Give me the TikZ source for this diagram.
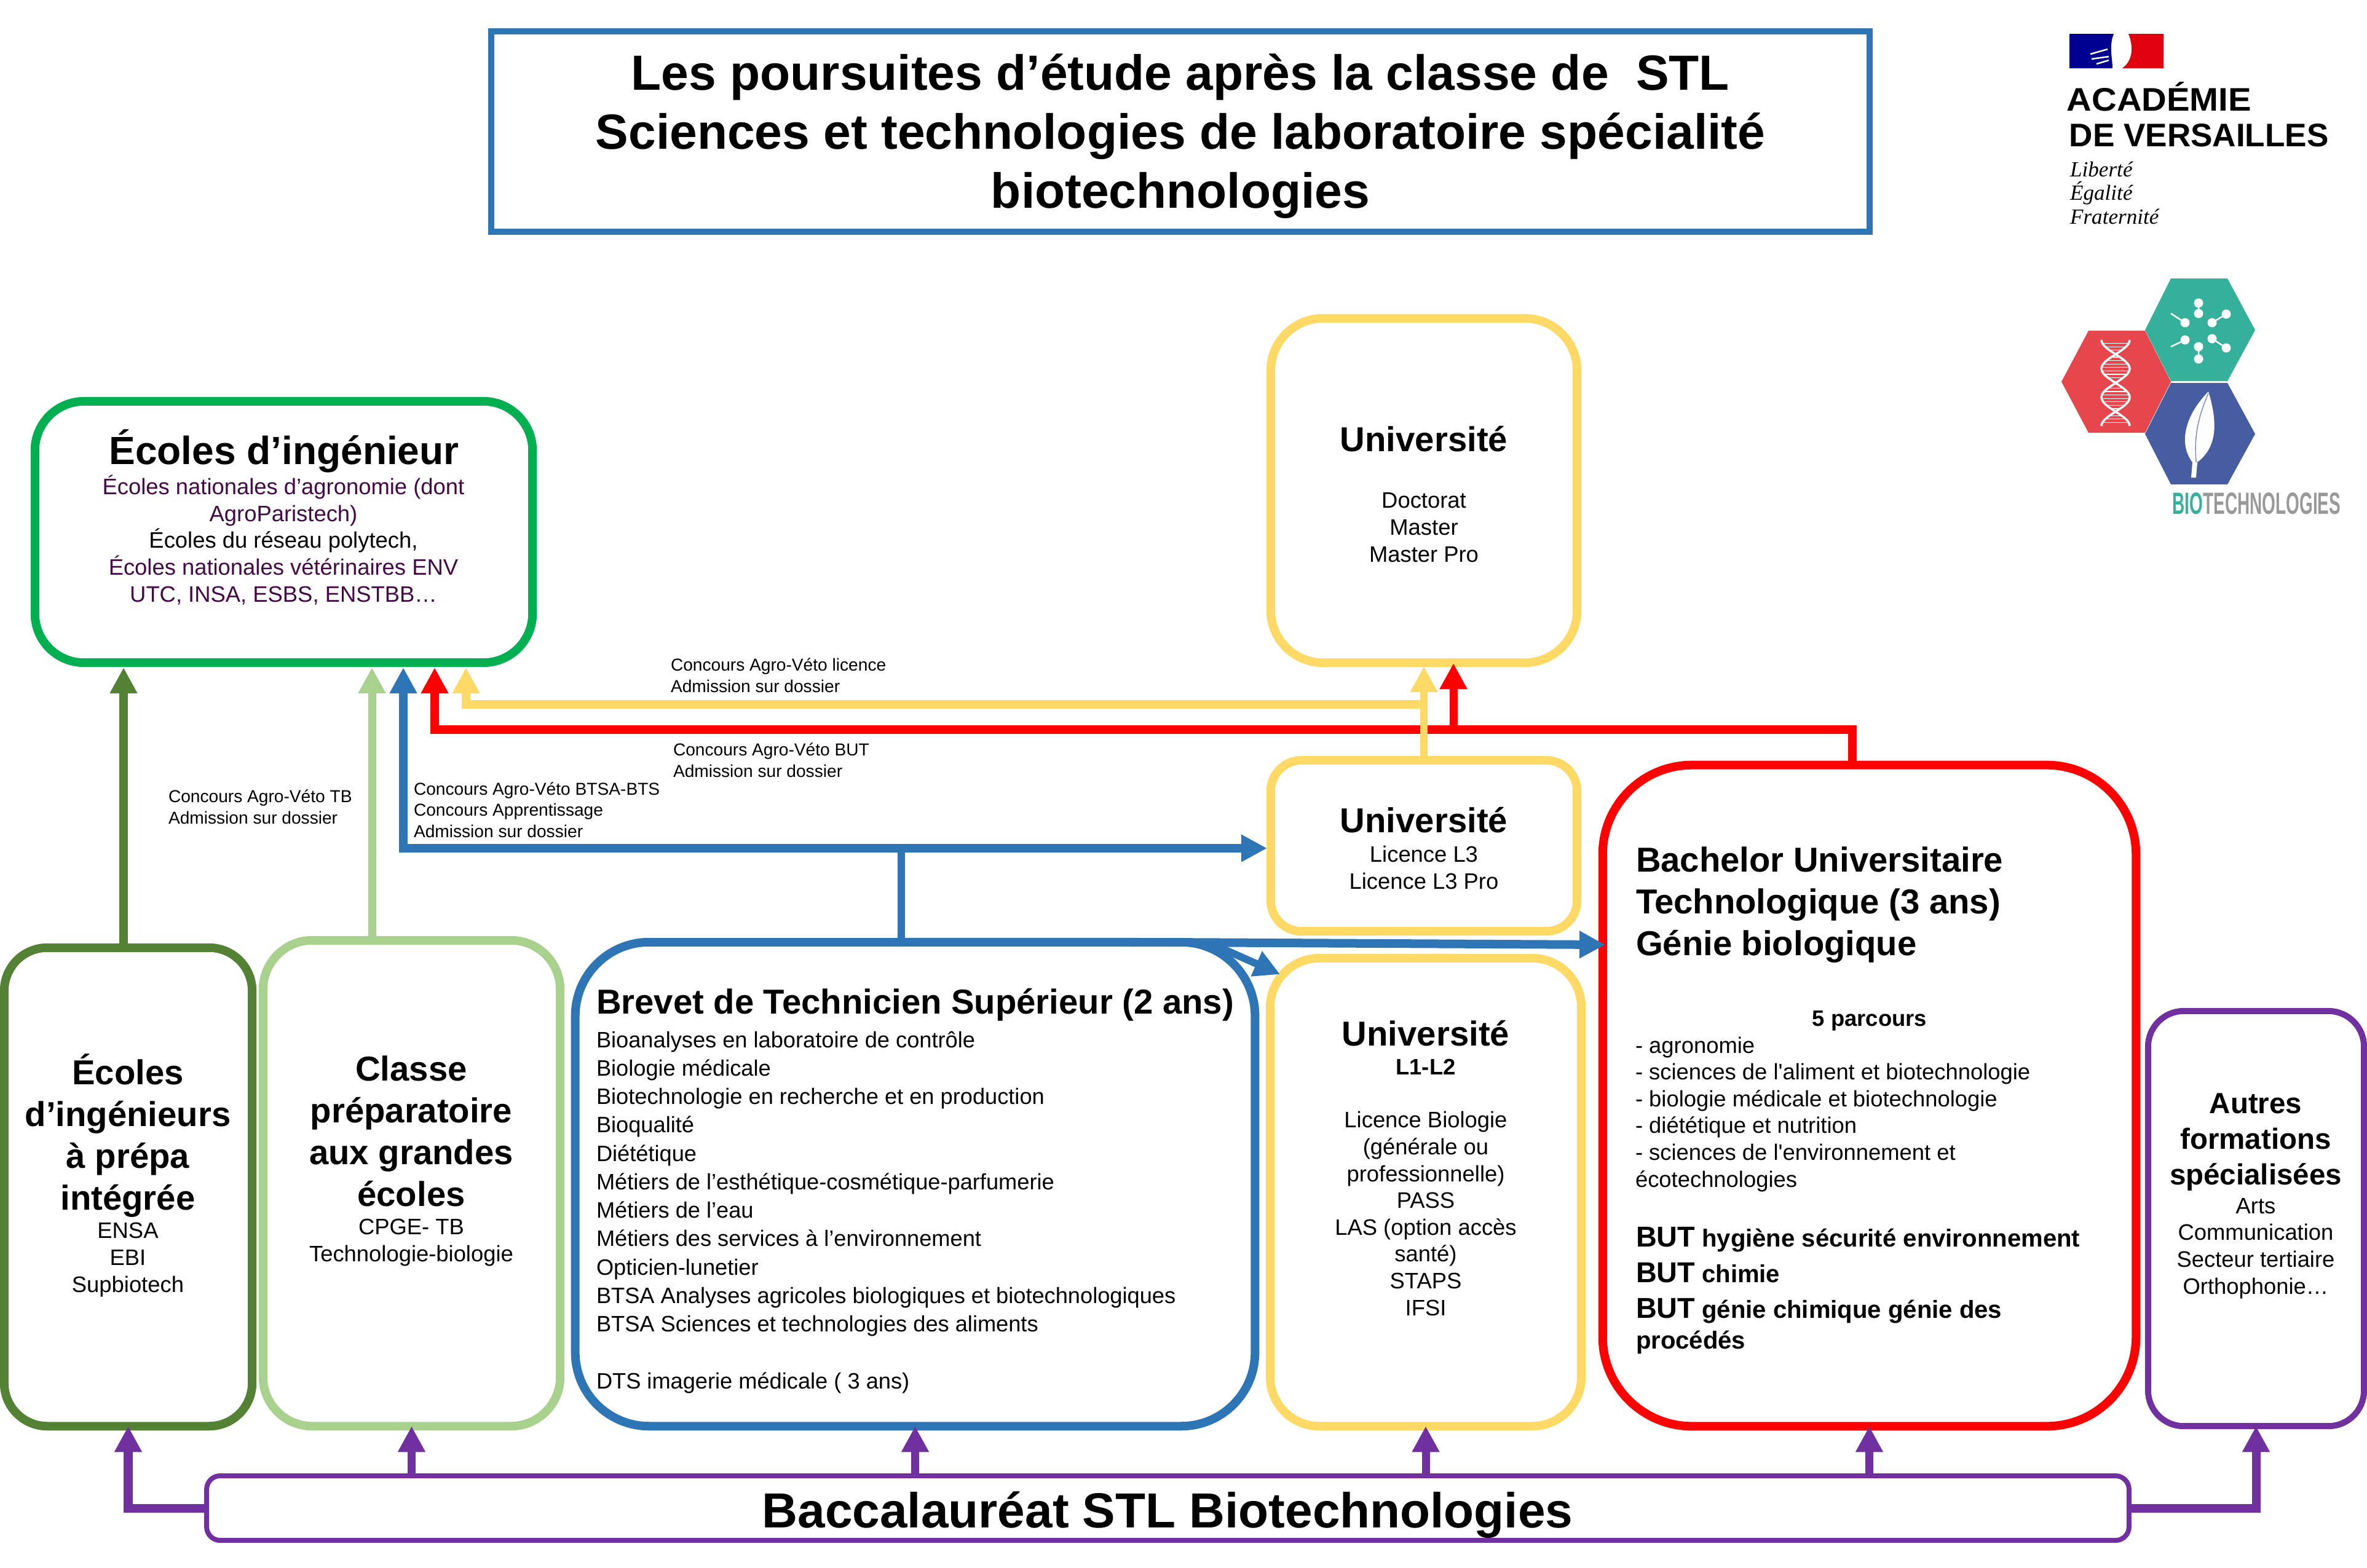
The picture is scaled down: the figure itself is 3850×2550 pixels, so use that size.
\documentclass[tikz,border=0pt]{standalone}
\usepackage{fontspec}
\usepackage{graphicx}
\setmainfont{Liberation Sans}[Ligatures=TeXOff]
\newfontfamily\logoserif{Liberation Serif}
\usetikzlibrary{arrows.meta}
\usetikzlibrary{positioning}
\definecolor{stlblue}{HTML}{2E75B6}
\definecolor{stlyellow}{HTML}{FFD966}
\definecolor{stlgreen}{HTML}{00B050}
\definecolor{stldark}{HTML}{548235}
\definecolor{stllight}{HTML}{A9D18E}
\definecolor{stlpurple}{HTML}{7030A0}
\definecolor{stlred}{HTML}{FF0000}
\definecolor{stlplum}{HTML}{430845}
\definecolor{hexteal}{HTML}{35B09B}
\definecolor{hexred}{HTML}{E5474D}
\definecolor{hexblue}{HTML}{465DA1}
\newcommand{\bodyfont}{\fontsize{10.35}{12.4}\selectfont}
\newcommand{\headfont}{\fontsize{16}{19.3}\selectfont\bfseries}
\newcommand{\smallfont}{\fontsize{8.0}{9.7}\selectfont}
\newcommand{\butword}{{\fontsize{13.3}{16.6}\selectfont BUT}}
\tikzset{
    box/.style={draw, line width=0.14cm, outer sep=0, inner sep=0},
    txt/.style={inner sep=0, outer sep=0, anchor=base, align=center},
    txtl/.style={inner sep=0, outer sep=0, anchor=base west, align=left},
    link/.style={line width=0.13cm, -{Triangle[length=0.42cm, width=0.42cm]}},
    bar/.style={line width=0.14cm, line cap=butt}
}

\begin{document}
\begin{tikzpicture}[x=0.01cm, y=-0.01cm]
    \useasboundingbox (0,0) rectangle (3850,2550);

    \node[box, draw=stlblue, line width=0.1cm, minimum width=22.4cm, minimum height=3.26cm] (title) at (1920,214) {};
    \node[box, draw=stlgreen, rounded corners=0.8cm, minimum width=8.09cm, minimum height=4.25cm] (ecoles) at (461.5,865.5) {};
    \node[box, draw=stlyellow, rounded corners=0.85cm, minimum width=4.98cm, minimum height=5.6cm] (univtop) at (2316,798) {};
    \node[box, draw=stlyellow, rounded corners=0.5cm, minimum width=4.98cm, minimum height=2.78cm] (univmid) at (2316,1376) {};
    \node[box, draw=stlred, rounded corners=1.45cm, minimum width=8.67cm, minimum height=10.75cm] (but) at (3040.5,1782.5) {};
    \node[box, draw=stldark, rounded corners=0.7cm, minimum width=4.03cm, minimum height=7.78cm] (prepa) at (208.5,1931) {};
    \node[box, draw=stllight, rounded corners=0.8cm, minimum width=4.83cm, minimum height=7.9cm] (classe) at (669.5,1925) {};
    \node[box, draw=stlblue, rounded corners=1.2cm, minimum width=11.05cm, minimum height=7.87cm] (bts) at (1488.5,1926.5) {};
    \node[box, draw=stlyellow, rounded corners=0.8cm, minimum width=5.06cm, minimum height=7.61cm] (univlow) at (2319,1939.5) {};
    \node[box, draw=stlpurple, line width=0.1cm, rounded corners=0.58cm, minimum width=3.51cm, minimum height=6.75cm] (autres) at (3669.5,1982.5) {};
    \node[box, draw=stlpurple, line width=0.08cm, rounded corners=0.22cm, minimum width=31.25cm, minimum height=1.05cm] (bac) at (1899.5,2453.5) {};

    \node[txt, font=\fontsize{22.85}{27.3}\selectfont\bfseries] (titletext) at (1920,338) {Les poursuites d’étude après la classe de~ STL\\Sciences et technologies de laboratoire spécialité\\biotechnologies};
    \node[txt, font=\fontsize{18.2}{22}\selectfont\bfseries] (ecoleshead) at (462,755) {Écoles d’ingénieur};
    \node[txt, font=\bodyfont] (ecolesbody) at (461,979) {\textcolor{stlplum}{Écoles nationales d’agronomie (dont}\\\textcolor{stlplum}{AgroParistech)}\\Écoles du réseau polytech,\\\textcolor{stlplum}{Écoles nationales vétérinaires ENV}\\\textcolor{stlplum}{UTC, INSA, ESBS, ENSTBB…}};
    \node[txt, font=\headfont] (univtophead) at (2316,734) {Université};
    \node[txt, font=\bodyfont] (univtopbody) at (2316,914) {Doctorat\\Master\\Master Pro};
    \node[txt, font=\headfont] (univmidhead) at (2316,1354) {Université};
    \node[txt, font=\bodyfont] (univmidbody) at (2316,1446) {Licence L3\\Licence L3 Pro};
    \node[txt, font=\headfont] (prepahead) at (208,1968) {Écoles\\d’ingénieurs\\à prépa\\intégrée};
    \node[txt, font=\bodyfont] (prepabody) at (208,2102) {ENSA\\EBI\\Supbiotech};
    \node[txt, font=\headfont] (classehead) at (669,1962) {Classe\\préparatoire\\aux grandes\\écoles};
    \node[txt, font=\bodyfont] (classebody) at (669,2052) {CPGE- TB\\Technologie-biologie};
    \node[txtl, font=\headfont] (btshead) at (970,1649) {Brevet de Technicien Supérieur (2 ans)};
    \node[txtl, font=\fontsize{10.3}{13.15}\selectfont] (btsbody) at (970,2259) {Bioanalyses en laboratoire de contrôle\\Biologie médicale\\Biotechnologie en recherche et en production\\Bioqualité\\Diététique\\Métiers de l’esthétique-cosmétique-parfumerie\\Métiers de l’eau\\Métiers des services à l’environnement\\Opticien-lunetier\\BTSA Analyses agricoles biologiques et biotechnologiques\\BTSA Sciences et technologies des aliments\\[13.15pt]DTS imagerie médicale ( 3 ans)};
    \node[txt, font=\headfont] (univlowhead) at (2319,1701) {Université};
    \node[txt, font=\bodyfont\bfseries] (univlowsub) at (2319,1748) {L1-L2};
    \node[txt, font=\bodyfont] (univlowbody) at (2319,2140) {Licence Biologie\\(générale ou\\professionnelle)\\PASS\\LAS (option accès\\santé)\\STAPS\\IFSI};
    \node[txtl, font=\headfont] (buthead) at (2661,1554) {Bachelor Universitaire\\Technologique (3 ans)\\Génie biologique};
    \node[txt, font=\bodyfont\bfseries] (butparcours) at (3041,1669) {5 parcours};
    \node[txtl, font=\bodyfont] (butlist) at (2660,1931) {- agronomie\\- sciences de l'aliment et biotechnologie\\- biologie médicale et biotechnologie\\- diététique et nutrition\\- sciences de l'environnement et\\écotechnologies};
    \node[txtl, font=\fontsize{11.4}{16.6}\selectfont\bfseries] (butdiplomes) at (2661,2194) {\butword{} hygiène sécurité environnement\\\butword{} chimie\\\butword{} génie chimique génie des\\[-2.6pt]procédés};
    \node[txt, font=\fontsize{13.5}{16.4}\selectfont\bfseries] (autreshead) at (3669,1927) {Autres\\formations\\spécialisées};
    \node[txt, font=\bodyfont] (autresbody) at (3669,2105) {Arts\\Communication\\Secteur tertiaire\\Orthophonie…};
    \node[txt, font=\fontsize{22.8}{27}\selectfont\bfseries] (bactext) at (1899,2485) {Baccalauréat STL Biotechnologies};

    \node[txtl, font=\smallfont] (veto1) at (274,1340) {Concours Agro-Véto TB\\Admission sur dossier};
    \node[txtl, font=\smallfont] (veto2) at (673,1362) {Concours Agro-Véto BTSA-BTS\\Concours Apprentissage\\Admission sur dossier};
    \node[txtl, font=\smallfont] (veto3) at (1091,1126) {Concours Agro-Véto licence\\Admission sur dossier};
    \node[txtl, font=\smallfont] (veto4) at (1095,1264) {Concours Agro-Véto BUT\\Admission sur dossier};

    \coordinate (ecolesa) at (201,1086);
    \coordinate (ecolesb) at (605,1086);
    \coordinate (ecolesc) at (656,1086);
    \coordinate (ecolesd) at (707,1086);
    \coordinate (ecolese) at (758,1086);
    \coordinate (univred) at (2364,1079);
    \coordinate (redsplit) at (3013,1187);
    \coordinate (yellowsplit) at (2316,1146);
    \coordinate (bluesplit) at (1466,1380);
    \coordinate (btsend) at (1900,1533);
    \coordinate (butentry) at (2611,1537);
    \coordinate (univentry) at (2082,1585);
    \coordinate (univstart) at (1965,1533);

    \draw[link, stldark] (prepa.north -| ecolesa) -- (ecolesa);
    \draw[link, stllight] (classe.north -| ecolesb) -- (ecolesb);
    \draw[link, stlred, line width=0.14cm] (but.north -| redsplit) -- (redsplit) -| (ecolesd);
    \draw[link, stlred] (redsplit -| univred) -- (univred);
    \draw[link, stlyellow, line width=0.14cm] (yellowsplit) -| (ecolese);
    \draw[link, stlyellow, line width=0.12cm, shorten >=0.06cm] (univmid.north) -- (univtop.south);
    \draw[bar, stlblue, line width=0.12cm] (bts.north -| bluesplit) -- (bluesplit);
    \draw[link, stlblue, line width=0.14cm] (bluesplit) -| (ecolesc);
    \draw[link, stlblue, line width=0.14cm, shorten >=0.06cm] (bluesplit) -- (univmid.west |- bluesplit);
    \draw[link, stlblue, line width=0.14cm] (bts.north -| bluesplit) -- (btsend) -- (butentry);
    \draw[link, stlblue, line width=0.12cm] (univstart) -- (univentry);

    \draw[link, stlpurple, line width=0.14cm] (bac.west) -| (prepa.south);
    \draw[link, stlpurple, line width=0.14cm] (bac.east) -| (autres.south);
    \draw[link, stlpurple] (bac.north -| classe.south) -- (classe.south);
    \draw[link, stlpurple] (bac.north -| bts.south) -- (bts.south);
    \draw[link, stlpurple] (bac.north -| univlow.south) -- (univlow.south);
    \draw[link, stlpurple] (bac.north -| but.south) -- (but.south);

    \fill[color={rgb,255:red,0;green,0;blue,145}] (3366,55) -- (3438,55) .. controls (3430,75) and (3436,95) .. (3436,111) -- (3366,111) -- cycle;
    \fill[color={rgb,255:red,225;green,0;blue,15}] (3462,55) -- (3519,55) -- (3519,111) -- (3452,111) .. controls (3470,98) and (3470,75) .. (3462,55) -- cycle;
    \draw[white, line width=0.025cm] (3400,88) -- (3428,80) (3402,96) -- (3430,92) (3410,104) -- (3430,98);
    \node[inner sep=0, anchor=base west, font=\fontsize{15.1}{18}\selectfont\bfseries] (acad) at (3361,180) {\scalebox{1.06}[1]{ACADÉMIE}};
    \node[inner sep=0, anchor=base west, font=\fontsize{15.1}{18}\selectfont\bfseries] (versailles) at (3365,238) {\scalebox{1.0}[1]{DE VERSAILLES}};
    \node[txtl, font=\logoserif\itshape\fontsize{10}{10.9}\selectfont] (devise) at (3367,364) {Liberté\\Égalité\\Fraternité};

    \fill[hexteal] (3489,537) -- (3531,453) -- (3623,453) -- (3668,537) -- (3623,620) -- (3531,620) -- cycle;
    \fill[hexred] (3353,621) -- (3397,538) -- (3489,538) -- (3531,621) -- (3489,704) -- (3397,704) -- cycle;
    \fill[hexblue] (3489,706) -- (3531,623) -- (3623,623) -- (3668,706) -- (3623,788) -- (3531,788) -- cycle;

    \draw[white, line width=0.035cm, domain=0:1, samples=40] plot ({3441+23*cos(540*\x)}, {553+140*\x});
    \draw[white, line width=0.035cm, domain=0:1, samples=40] plot ({3441-23*cos(540*\x)}, {553+140*\x});
    \foreach \t in {0.04,0.08,...,0.98}
        \draw[white, line width=0.012cm] ({3441+23*cos(540*\t)}, {553+140*\t}) -- ({3441-23*cos(540*\t)}, {553+140*\t});

    \draw[white, line width=0.025cm] (3576,493) -- (3576,510) (3576,584) -- (3576,564) (3598,525) -- (3621,511) (3598,551) -- (3621,566) (3554,525) -- (3531,510) (3554,553) -- (3531,564);
    \foreach \px/\py in {3576/493, 3576/510, 3576/584, 3576/564, 3598/525, 3621/511, 3598/551, 3621/566, 3554/525, 3554/553}
        \fill[white] (\px,\py) circle (0.075cm);

    \fill[white] (3592,637) .. controls (3550,680) and (3545,725) .. (3566,752) -- (3564,777) -- (3572,777) -- (3574,752) .. controls (3610,725) and (3605,680) .. (3592,637) -- cycle;
    \draw[hexblue!70!white, line width=0.015cm] (3592,640) .. controls (3570,690) and (3570,720) .. (3572,752);

    \node[inner sep=0, anchor=base west, font=\fontsize{14.2}{17}\selectfont\bfseries] (biologo) at (3533,836) {\scalebox{0.56}[1]{\textcolor{hexteal}{BIO}\textcolor{black!40}{TECHNOLOGIES}}};
\end{tikzpicture}
\end{document}
